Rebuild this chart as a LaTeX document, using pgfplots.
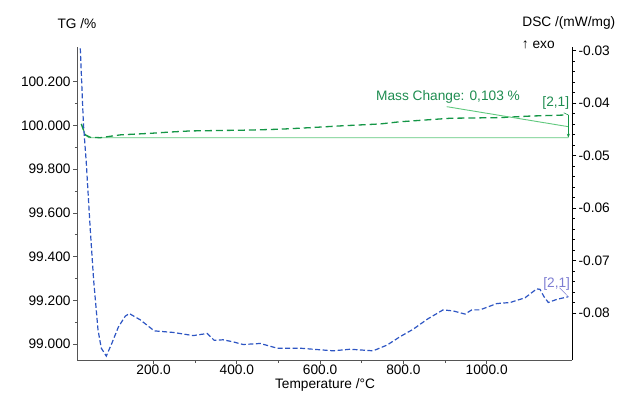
\documentclass[border=0pt]{standalone}
\usepackage{fontspec}
\setmainfont{Liberation Sans}
\usepackage{pgfplots}
\pgfplotsset{compat=1.18}
\usetikzlibrary{arrows.meta}

\definecolor{tgreen}{RGB}{20,150,70}
\definecolor{lgreen}{RGB}{95,200,125}
\definecolor{txtgreen}{RGB}{30,140,80}
\definecolor{dblue}{RGB}{45,85,195}
\definecolor{lblue}{RGB}{125,125,210}
\definecolor{axgray}{RGB}{85,85,85}

\pgfplotstableread{
T V
26.5 100.007
36.1 99.957
48.1 99.946
72.1 99.944
120.1 99.957
192.1 99.964
240.1 99.970
288.1 99.975
432.1 99.979
504.1 99.983
576.1 99.990
648.1 99.998
744.1 100.007
792.1 100.017
912.1 100.033
1032.1 100.036
1104.1 100.043
1190.5 100.048
}\tgdata

\pgfplotstableread{
T R
24.1 -0.0296
31.6 -0.0440
38.5 -0.0514
48.1 -0.0642
56.1 -0.0737
66.6 -0.0832
74.5 -0.0867
86.5 -0.0882
100.2 -0.0857
115.3 -0.0827
132.1 -0.0806
141.7 -0.0801
168.1 -0.0813
201.7 -0.0834
247.3 -0.0837
295.3 -0.0843
328.9 -0.0839
345.7 -0.0852
367.3 -0.0851
391.3 -0.0855
415.3 -0.0860
456.1 -0.0858
496.9 -0.0867
552.1 -0.0867
583.3 -0.0869
631.3 -0.0872
672.1 -0.0869
727.3 -0.0872
760.9 -0.0861
792.1 -0.0845
823.3 -0.0831
856.9 -0.0812
895.3 -0.0794
919.3 -0.0796
948.1 -0.0802
964.2 -0.0794
984.1 -0.0794
1024.2 -0.0782
1056.1 -0.0780
1092.1 -0.0771
1120.2 -0.0754
1128.1 -0.0755
1137.7 -0.0769
1148.0 -0.0780
1168.2 -0.0774
1196.1 -0.0769
}\dscdata

\begin{document}
\begin{tikzpicture}
\fontsize{13.7}{16}\selectfont
\useasboundingbox (0,0) rectangle (626pt,392pt);
\pgfplotsset{
  common/.style={
    at={(77.3pt,32pt)}, anchor=south west, scale only axis,
    width=495pt, height=313pt,
    xmin=16.9, xmax=1205.6,
    scaled x ticks=false, scaled y ticks=false,
    tick label style={font=\fontsize{13.7}{16}\selectfont},
    /pgf/number format/assume math mode=true,
    tick align=outside, major tick length=4pt, minor tick length=2.5pt,
  }
}
\begin{axis}[common,
  ymin=98.927, ymax=100.359,
  axis x line*=bottom, axis y line*=left,
  axis line style={axgray, line width=0.9pt, -},
  tick style={axgray, line width=0.8pt},
  xtick={200,400,600,800,1000},
  xticklabels={200.0,400.0,600.0,800.0,1000.0},
  xticklabel style={inner sep=1pt, yshift=0pt},
  yticklabel style={xshift=2pt},
  minor x tick num=1,
  ytick={99,99.2,99.4,99.6,99.8,100,100.2},
  yticklabels={99.000,99.200,99.400,99.600,99.800,100.000,100.200},
  minor y tick num=1,
]
\addplot[lgreen, line width=0.9pt] coordinates {(26.5,100.007) (36.1,99.957) (45,99.944) (1196.1,99.944)};
\addplot[tgreen, line width=1.3pt, dash pattern=on 7pt off 4pt] table[x=T,y=V] {\tgdata};
\draw[lgreen, line width=0.9pt] (axis cs:904.1,100.086) -- (axis cs:1196.1,99.9945);
\draw[tgreen, line width=0.8pt, -{Stealth[length=4pt,width=3pt]}] (axis cs:1196.1,100.048) -- (axis cs:1196.1,99.944);
\draw[tgreen, line width=0.6pt] (axis cs:1185,100.058) -- (axis cs:1196.1,100.048);
\end{axis}
\begin{axis}[common,
  ymin=-0.08895, ymax=-0.02933,
  axis x line=none, axis y line*=right,
  axis line style={black, line width=0.9pt, -},
  tick style={black, line width=0.8pt},
  yticklabel style={xshift=-2.5pt},
  ytick={-0.08,-0.07,-0.06,-0.05,-0.04,-0.03},
  yticklabels={-0.08,-0.07,-0.06,-0.05,-0.04,-0.03},
  minor y tick num=4,
]
\addplot[dblue, line width=1.2pt, dash pattern=on 5pt off 2.5pt] table[x=T,y=R] {\dscdata};
\draw[lblue, line width=0.5pt] (axis cs:1175,-0.0752) -- (axis cs:1196.1,-0.0769);
\end{axis}
\node at (77pt,368.5pt) {TG /\%};
\node[anchor=east] at (620pt,369.3pt) {DSC /(mW/mg)};
\node[anchor=west, inner sep=0pt] at (521.7pt,347pt) {↑ exo};
\node[anchor=base, inner sep=0pt] at (325pt,3.2pt) {Temperature /°C};
\node[anchor=base west, inner sep=0pt, text=txtgreen] at (376pt,291.3pt) {Mass Change: 0,103 \%};
\node[text=txtgreen, inner sep=0pt] at (555.8pt,289pt) {[2,1]};
\node[text=lblue, inner sep=0pt] at (556.7pt,107.7pt) {[2,1]};
\end{tikzpicture}
\end{document}
